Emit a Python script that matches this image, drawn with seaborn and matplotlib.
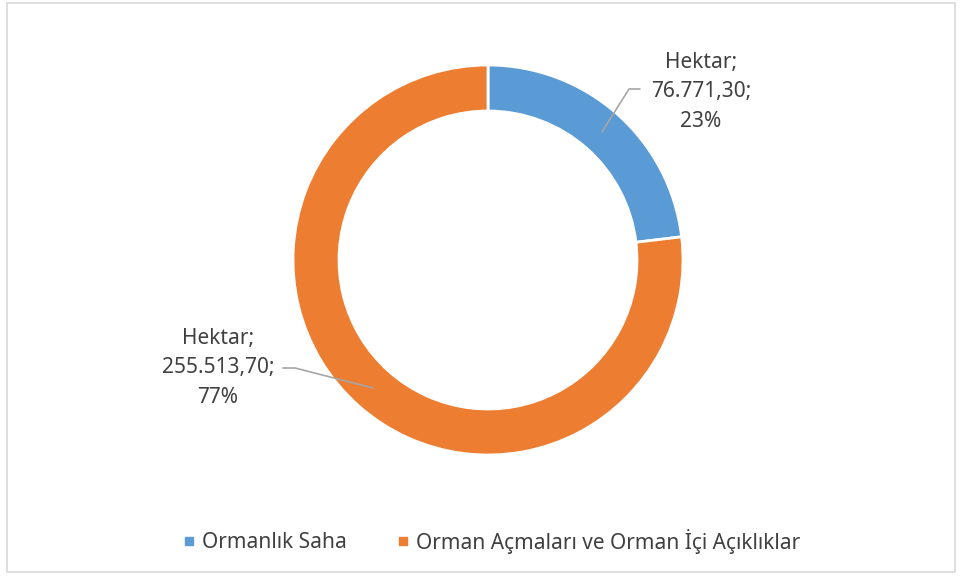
import matplotlib
matplotlib.use("Agg")
import matplotlib.pyplot as plt
from matplotlib.lines import Line2D
from matplotlib.patches import Rectangle
import seaborn as sns

categories = ["Ormanlık Saha", "Orman Açmaları ve Orman İçi Açıklıklar"]
hectares = [76771.30, 255513.70]
label_texts = ["Hektar;\n76.771,30;\n23%", "Hektar;\n255.513,70;\n77%"]

sns.set_theme(style="white")
plt.rcParams["font.family"] = ["Noto Sans", "DejaVu Sans"]
colors = ["#5B9BD5", "#ED7D31"]
text_color = "#404040"
line_color = "#A6A6A6"

W, H = 960, 577
fig = plt.figure(figsize=(9.6, 5.77), dpi=100)
ax = fig.add_axes([0, 0, 1, 1])

cx, cy, r = 488, H - 260, 195
wedges, _ = ax.pie(hectares, colors=colors, startangle=90, counterclock=False,
                   center=(cx, cy), radius=r, frame=True,
                   wedgeprops=dict(width=46, edgecolor="white", linewidth=2))
ax.set_xlim(0, W)
ax.set_ylim(0, H)
ax.set_aspect("equal")
ax.axis("off")

# chart frame
ax.add_patch(Rectangle((7, 5), 948, 569, fill=False, edgecolor="#D9D9D9", lw=1.2))

# data labels with leader lines
fs = 15
ax.plot([602, 629, 640], [H - 132, H - 89, H - 89], color=line_color, lw=1.2)
ax.text(701, H - 92, label_texts[0], ha="center", va="center", fontsize=fs,
        color=text_color, linespacing=1.56)
ax.plot([373, 295, 283], [H - 388, H - 368, H - 368], color=line_color, lw=1.2)
ax.text(218, H - 368, label_texts[1], ha="center", va="center", fontsize=fs,
        color=text_color, linespacing=1.56)

handles = [Line2D([], [], marker="s", ls="", markersize=5.5, color=c) for c in colors]
fig.legend(handles, categories, loc="center", bbox_to_anchor=(0.5125, 1 - 541 / H),
           ncol=2, frameon=False, fontsize=fs, handlelength=0.5, handletextpad=0.4,
           columnspacing=2.4, labelcolor=text_color)

fig.savefig("out.png", dpi=100, facecolor="white")
